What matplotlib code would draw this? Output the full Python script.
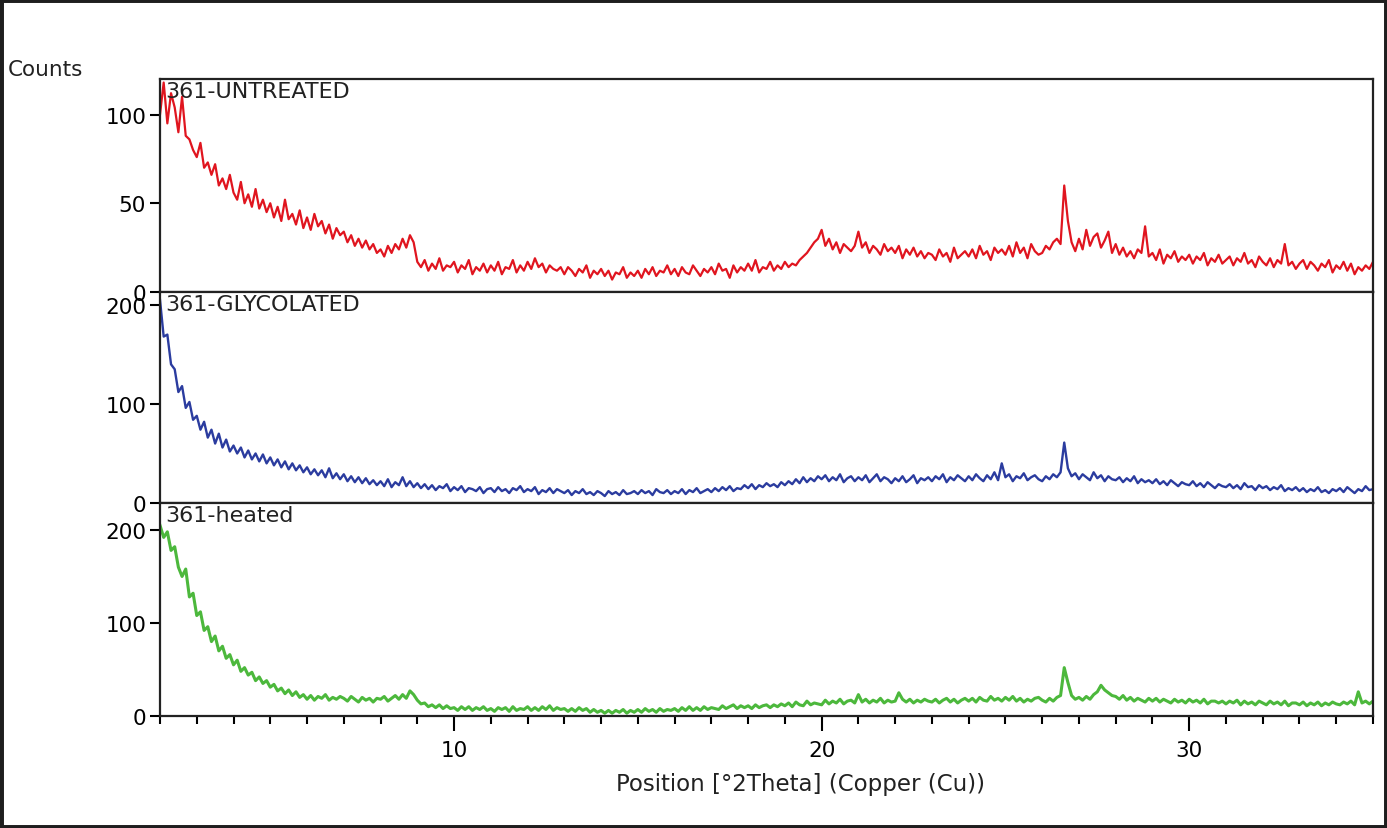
import numpy as np
import matplotlib
matplotlib.use("Agg")
import matplotlib.pyplot as plt
from matplotlib.patches import Rectangle
from matplotlib.ticker import MultipleLocator

# 2Theta grid, 2.0 .. 35.0 in 0.1 deg steps (one row of values per degree below)
two_theta = np.round(np.arange(2.0, 35.05, 0.1), 1)

untreated = [
    100, 118, 95, 112, 104, 90, 110, 88, 86, 80,
    76, 84, 70, 73, 66, 72, 60, 64, 58, 66,
    56, 52, 62, 50, 55, 48, 58, 47, 52, 45,
    50, 42, 48, 40, 52, 41, 44, 38, 46, 36,
    42, 35, 44, 37, 40, 33, 38, 30, 36, 32,
    34, 28, 32, 26, 30, 25, 29, 24, 27, 22,
    24, 20, 26, 22, 27, 24, 30, 25, 32, 28,
    17, 14, 18, 12, 16, 13, 19, 12, 15, 14,
    17, 11, 15, 13, 18, 10, 14, 12, 16, 11,
    15, 12, 17, 10, 14, 13, 18, 11, 15, 12,
    17, 13, 19, 14, 16, 11, 15, 13, 12, 14,
    10, 14, 12, 9, 13, 11, 15, 8, 12, 10,
    13, 9, 12, 7, 11, 10, 14, 8, 11, 9,
    12, 8, 13, 10, 14, 9, 12, 11, 15, 10,
    13, 9, 14, 11, 10, 15, 12, 9, 13, 11,
    14, 10, 16, 12, 13, 8, 15, 11, 14, 12,
    16, 12, 18, 11, 14, 13, 17, 12, 15, 13,
    17, 14, 16, 15, 18, 20, 22, 25, 28, 30,
    35, 26, 30, 24, 28, 22, 27, 25, 23, 26,
    34, 25, 28, 22, 26, 24, 21, 27, 23, 25,
    22, 26, 19, 24, 21, 25, 20, 23, 19, 22,
    21, 18, 24, 20, 22, 17, 25, 19, 21, 23,
    20, 24, 19, 26, 21, 23, 18, 25, 22, 24,
    21, 26, 20, 28, 22, 25, 19, 27, 23, 21,
    22, 26, 24, 28, 30, 27, 60, 40, 28, 23,
    30, 24, 35, 26, 31, 33, 25, 29, 34, 22,
    27, 21, 25, 20, 23, 19, 24, 22, 37, 20,
    22, 18, 24, 16, 21, 19, 23, 17, 20, 18,
    21, 16, 20, 18, 22, 15, 19, 17, 21, 16,
    18, 20, 15, 19, 17, 22, 16, 18, 14, 20,
    17, 15, 19, 14, 18, 16, 27, 15, 17, 13,
    16, 18, 13, 17, 15, 12, 16, 14, 18, 11,
    15, 13, 17, 12, 16, 10, 14, 12, 15, 13,
    17,
]

glycolated = [
    205, 168, 170, 140, 135, 112, 118, 96, 102, 84,
    88, 74, 82, 66, 74, 60, 70, 56, 64, 52,
    58, 50, 56, 46, 53, 44, 50, 42, 49, 40,
    46, 38, 44, 36, 42, 34, 40, 33, 38, 31,
    36, 29, 34, 28, 33, 26, 35, 25, 30, 24,
    29, 22, 27, 21, 26, 20, 25, 19, 23, 18,
    22, 17, 24, 16, 21, 18, 26, 17, 22, 16,
    20, 15, 19, 14, 18, 13, 17, 15, 19, 12,
    16, 13, 17, 11, 15, 14, 12, 16, 10, 14,
    15, 11, 16, 12, 14, 10, 15, 13, 17, 11,
    14, 12, 16, 9, 13, 11, 15, 10, 14, 12,
    10, 13, 8, 12, 10, 14, 9, 11, 8, 12,
    10, 7, 12, 9, 11, 8, 13, 9, 10, 12,
    9, 13, 10, 12, 8, 14, 11, 10, 13, 9,
    12, 10, 14, 9, 13, 11, 15, 10, 12, 14,
    11, 15, 12, 16, 13, 17, 12, 15, 14, 18,
    15, 19, 14, 18, 16, 20, 17, 19, 16, 21,
    18, 22, 19, 24, 20, 26, 21, 25, 22, 27,
    24, 28, 22, 26, 23, 29, 21, 25, 27, 22,
    26, 23, 28, 21, 25, 29, 22, 26, 24, 20,
    25, 22, 27, 21, 24, 28, 20, 25, 23, 26,
    22, 27, 24, 29, 21, 26, 23, 28, 25, 22,
    27, 23, 29, 25, 22, 28, 24, 31, 23, 40,
    26, 29, 22, 27, 25, 30, 23, 26, 28, 24,
    22, 27, 24, 29, 26, 31, 61, 35, 27, 30,
    24, 29, 26, 23, 31, 25, 28, 22, 27, 24,
    23, 26, 21, 25, 22, 27, 20, 24, 21, 23,
    20, 24, 19, 22, 18, 23, 20, 17, 21, 19,
    18, 22, 17, 20, 16, 21, 18, 15, 19, 17,
    16, 19, 15, 18, 14, 20, 16, 17, 13, 18,
    15, 17, 13, 16, 14, 18, 12, 15, 13, 16,
    12, 15, 11, 14, 12, 16, 11, 13, 10, 14,
    12, 15, 11, 16, 13, 10, 14, 12, 17, 13,
    14,
]

heated = [
    205, 192, 198, 178, 182, 160, 150, 158, 128, 132,
    108, 112, 92, 96, 80, 86, 70, 75, 62, 66,
    55, 60, 48, 52, 44, 47, 38, 42, 35, 38,
    31, 34, 27, 30, 24, 28, 22, 26, 20, 23,
    18, 22, 17, 21, 19, 23, 17, 20, 18, 21,
    19, 16, 21, 18, 15, 20, 17, 19, 15, 19,
    18, 21, 16, 19, 22, 18, 23, 19, 27, 23,
    17, 13, 14, 10, 12, 9, 12, 8, 11, 8,
    9, 6, 10, 7, 10, 6, 9, 7, 10, 6,
    8, 5, 9, 7, 9, 5, 10, 6, 8, 7,
    10, 6, 9, 6, 10, 7, 11, 6, 9, 7,
    8, 5, 8, 5, 9, 6, 8, 4, 7, 4,
    6, 3, 6, 3, 6, 4, 7, 3, 6, 4,
    7, 4, 8, 5, 7, 4, 8, 5, 7, 6,
    8, 5, 9, 6, 10, 6, 9, 6, 10, 7,
    9, 8, 7, 11, 8, 10, 12, 8, 11, 9,
    11, 8, 12, 9, 11, 12, 9, 12, 10, 13,
    11, 14, 10, 15, 12, 11, 16, 12, 14, 13,
    12, 17, 13, 16, 14, 18, 13, 16, 17, 14,
    23, 15, 18, 14, 17, 15, 19, 14, 17, 15,
    16, 25, 18, 15, 18, 14, 17, 15, 18, 16,
    15, 18, 14, 17, 19, 15, 18, 14, 17, 19,
    16, 19, 15, 20, 17, 16, 21, 17, 19, 16,
    20, 17, 21, 16, 19, 15, 18, 16, 19, 20,
    17, 15, 19, 16, 20, 22, 52, 36, 22, 18,
    20, 17, 21, 18, 23, 26, 33, 28, 25, 22,
    21, 18, 22, 17, 20, 16, 19, 17, 15, 19,
    16, 19, 15, 18, 16, 14, 18, 15, 17, 14,
    18, 15, 17, 14, 18, 13, 16, 16, 14, 16,
    13, 16, 14, 17, 12, 16, 13, 15, 12, 16,
    14, 12, 16, 13, 15, 12, 16, 11, 14, 14,
    12, 15, 11, 14, 12, 15, 11, 14, 12, 15,
    13, 12, 15, 13, 16, 12, 26, 14, 16, 13,
    16,
]

names = ["361-UNTREATED", "361-GLYCOLATED", "361-heated"]
series = [untreated, glycolated, heated]
colors = ["#e0151f", "#2b3c9f", "#4cb83c"]
widths = [1.6, 1.7, 2.2]
ylims = [120, 213, 229]
ysteps = [50, 100, 100]

plt.rcParams["font.family"] = ["DejaVu Sans"]

fig = plt.figure(figsize=(13.87, 8.29), dpi=100)
fig.patch.set_facecolor("white")

left, width = 160 / 1387, (1373 - 160) / 1387
edges = [80, 293, 504, 717]

axes = []
for i in range(3):
    top, bot = edges[i], edges[i + 1]
    ax = fig.add_axes([left, 1 - bot / 829, width, (bot - top) / 829])
    ax.plot(two_theta, series[i], color=colors[i], lw=widths[i])
    ax.set_xlim(2, 35)
    ax.set_ylim(0, ylims[i])
    ax.yaxis.set_major_locator(MultipleLocator(ysteps[i]))
    ax.tick_params(axis="y", direction="out", length=7, width=1.5,
                   labelsize=15.5, pad=3)
    for s in ax.spines.values():
        s.set_linewidth(1.6)
        s.set_color("#222222")
    ax.text(0.004, 0.99, names[i], transform=ax.transAxes, ha="left",
            va="top", fontsize=16, color="#222222")
    if i < 2:
        ax.tick_params(axis="x", bottom=False, labelbottom=False)
    else:
        ax.xaxis.set_major_locator(MultipleLocator(10))
        ax.xaxis.set_minor_locator(MultipleLocator(1))
        ax.tick_params(axis="x", which="major", direction="out", length=11,
                       width=1.5, labelsize=15.5, pad=6)
        ax.tick_params(axis="x", which="minor", direction="out", length=6,
                       width=1.5)
    axes.append(ax)

fig.text(8 / 1387, 1 - 70 / 829, "Counts", fontsize=15.5, va="center",
         color="#222222")
fig.text(800 / 1387, 1 - 785 / 829, "Position [°2Theta] (Copper (Cu))",
         fontsize=16.5, ha="center", va="center", color="#222222")

# dark frame around the picture
fig.patches.append(Rectangle((0, 0), 1, 1, transform=fig.transFigure,
                             fill=False, lw=5, ec="#1e1e1e"))

fig.savefig("out.png", dpi=100)
